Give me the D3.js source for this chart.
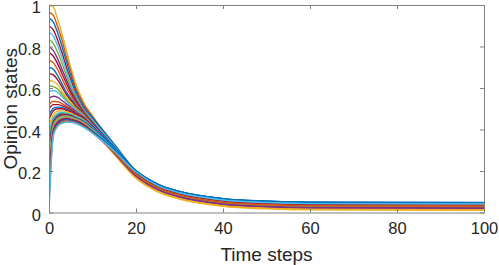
<!DOCTYPE html>
<html>
<head>
<meta charset="utf-8">
<script src="https://cdn.jsdelivr.net/npm/d3@7"></script>
<style>
  html, body { margin: 0; padding: 0; background: #ffffff; }
  svg { display: block; }
  text { font-family: "Liberation Sans", Arial, Helvetica, sans-serif; fill: #262626; }
</style>
</head>
<body>
<svg id="chart" width="499" height="265"></svg>
<script>
// ---- data ----
const timeSteps = [0, 1, 2, 3, 4, 5, 6, 8, 10, 12, 15, 20, 25, 30, 40, 50, 60, 100];
const xTicks = [0, 20, 40, 60, 80, 100];
const yTicks = [0, 0.2, 0.4, 0.6, 0.8, 1];
const yTickLabels = ["0", "0.2", "0.4", "0.6", "0.8", "1"];
const xLabel = "Time steps";
const yLabel = "Opinion states";

const palette = {
  B: "#0072BD", O: "#D95319", Y: "#EDB120", P: "#7E2F8E",
  G: "#77AC30", LB: "#4DBEEE", DR: "#A2142F"
};
const seriesColors = ["Y","O","B","DR","LB","G","P","DR","O","B","DR","Y","G","LB","P","O","DR",
                      "B","DR","Y","LB","G","B","DR","O","LB","G","Y","P","DR","B","O","LB"];
const opinionSeries = [
  [1.00,0.99,0.93,0.86,0.78,0.70,0.63,0.53,0.466,0.402, 0.306,0.167,0.102,0.067,0.032,0.020,0.015,0.013],
  [0.965,0.95,0.895,0.83,0.75,0.68,0.61,0.52,0.462,0.405, 0.318,0.185,0.120,0.085,0.050,0.038,0.033,0.031],
  [0.935,0.918,0.865,0.80,0.728,0.66,0.597,0.51,0.458,0.407, 0.329,0.201,0.136,0.101,0.066,0.054,0.049,0.047],
  [0.90,0.88,0.83,0.77,0.70,0.64,0.58,0.50,0.448,0.397, 0.319,0.191,0.126,0.091,0.056,0.044,0.039,0.037],
  [0.87,0.85,0.803,0.746,0.682,0.625,0.571,0.496,0.446,0.395, 0.320,0.195,0.130,0.095,0.060,0.048,0.043,0.041],
  [0.835,0.815,0.771,0.718,0.661,0.607,0.561,0.49,0.438,0.385, 0.307,0.181,0.116,0.081,0.046,0.034,0.029,0.027],
  [0.80,0.78,0.74,0.69,0.64,0.59,0.55,0.485,0.432,0.379, 0.300,0.175,0.110,0.075,0.040,0.028,0.023,0.021],
  [0.77,0.753,0.716,0.669,0.622,0.578,0.541,0.482,0.434,0.385, 0.313,0.193,0.128,0.093,0.058,0.046,0.041,0.039],
  [0.735,0.721,0.688,0.645,0.601,0.564,0.531,0.478,0.429,0.380, 0.307,0.187,0.122,0.087,0.052,0.040,0.035,0.033],
  [0.70,0.69,0.66,0.62,0.58,0.55,0.52,0.475,0.429,0.384, 0.315,0.199,0.134,0.099,0.064,0.052,0.047,0.045],
  [0.67,0.663,0.639,0.604,0.568,0.541,0.514,0.472,0.428,0.382, 0.308,0.191,0.126,0.091,0.056,0.044,0.039,0.037],
  [0.635,0.632,0.615,0.584,0.554,0.531,0.507,0.4685,0.420,0.370, 0.290,0.169,0.104,0.069,0.034,0.022,0.017,0.015],
  [0.61,0.607,0.595,0.569,0.543,0.522,0.502,0.466,0.421,0.374, 0.299,0.181,0.116,0.081,0.046,0.034,0.029,0.027],
  [0.585,0.588,0.58,0.558,0.535,0.516,0.497,0.4635,0.422,0.379, 0.310,0.196,0.131,0.096,0.061,0.049,0.044,0.042],
  [0.55,0.56,0.555,0.54,0.5225,0.5075,0.49,0.46,0.415,0.368, 0.292,0.174,0.109,0.074,0.039,0.027,0.022,0.020],
  [0.52,0.536,0.534,0.525,0.512,0.50,0.484,0.457,0.414,0.370, 0.299,0.183,0.118,0.083,0.048,0.036,0.031,0.029],
  [0.50,0.52,0.52,0.515,0.505,0.495,0.48,0.455,0.414,0.372, 0.304,0.190,0.125,0.090,0.055,0.043,0.038,0.036],
  [0.47,0.502,0.508,0.506,0.4975,0.489,0.4755,0.452,0.417,0.377, 0.311,0.200,0.135,0.100,0.065,0.053,0.048,0.046],
  [0.45,0.49,0.50,0.50,0.4925,0.485,0.4725,0.45,0.414,0.373, 0.305,0.192,0.127,0.092,0.057,0.045,0.040,0.038],
  [0.42,0.472,0.488,0.491,0.485,0.479,0.468,0.447,0.406,0.360, 0.282,0.165,0.100,0.065,0.030,0.018,0.013,0.011],
  [0.39,0.457,0.478,0.483,0.479,0.474,0.464,0.444,0.409,0.370, 0.305,0.194,0.129,0.094,0.059,0.047,0.042,0.040],
  [0.36,0.448,0.472,0.479,0.476,0.471,0.461,0.441,0.404,0.363, 0.293,0.180,0.115,0.080,0.045,0.033,0.028,0.026],
  [0.33,0.439,0.466,0.4745,0.473,0.468,0.458,0.438,0.406,0.370, 0.310,0.202,0.137,0.102,0.067,0.055,0.050,0.048],
  [0.30,0.43,0.46,0.47,0.47,0.465,0.455,0.435,0.401,0.363, 0.299,0.189,0.124,0.089,0.054,0.042,0.037,0.035],
  [0.27,0.424,0.4555,0.4655,0.467,0.462,0.4535,0.4335,0.399,0.361, 0.296,0.186,0.121,0.086,0.051,0.039,0.034,0.032],
  [0.24,0.418,0.451,0.461,0.464,0.459,0.452,0.432,0.400,0.364, 0.304,0.197,0.132,0.097,0.062,0.050,0.045,0.043],
  [0.21,0.412,0.446,0.456,0.46,0.455,0.45,0.43,0.396,0.357, 0.292,0.182,0.117,0.082,0.047,0.035,0.030,0.028],
  [0.18,0.406,0.442,0.453,0.458,0.453,0.448,0.428,0.391,0.350, 0.280,0.168,0.103,0.068,0.033,0.021,0.016,0.014],
  [0.15,0.40,0.4375,0.45,0.455,0.45,0.445,0.425,0.390,0.351, 0.286,0.176,0.111,0.076,0.041,0.029,0.024,0.022],
  [0.11,0.392,0.431,0.446,0.451,0.446,0.441,0.421,0.390,0.356, 0.298,0.192,0.127,0.092,0.057,0.045,0.040,0.038],
  [0.08,0.386,0.427,0.442,0.447,0.443,0.438,0.418,0.390,0.358, 0.304,0.201,0.136,0.101,0.066,0.054,0.049,0.047],
  [0.04,0.378,0.421,0.436,0.441,0.439,0.434,0.414,0.383,0.348, 0.289,0.184,0.119,0.084,0.049,0.037,0.032,0.030],
  [0.00,0.37,0.415,0.43,0.435,0.435,0.43,0.41,0.382,0.350, 0.296,0.195,0.130,0.095,0.060,0.048,0.043,0.041]
];

// ---- layout ----
const W = 499, H = 265;
const margin = { left: 49, right: 15, top: 5, bottom: 52.5 };
const x0 = margin.left, x1 = W - margin.right;
const y0 = margin.top, y1 = H - margin.bottom;

const svg = d3.select("#chart");
const x = d3.scaleLinear().domain([0, 100]).range([x0, x1]);
const y = d3.scaleLinear().domain([0, 1]).range([y1, y0]);

svg.append("defs").append("clipPath").attr("id", "clip")
  .append("rect").attr("x", x0).attr("y", y0 - 2).attr("width", x1 - x0).attr("height", y1 - y0 + 2);

const line = d3.line()
  .x((d, i) => x(timeSteps[i]))
  .y(d => y(d))
  .curve(d3.curveMonotoneX);

const g = svg.append("g").attr("clip-path", "url(#clip)");
opinionSeries.forEach((s, i) => {
  g.append("path")
    .attr("d", line(s))
    .attr("fill", "none")
    .attr("stroke", palette[seriesColors[i]])
    .attr("stroke-width", 1.4)
    .attr("stroke-linejoin", "round");
});

// axes (MATLAB style: box on, ticks inside)
const axisColor = "#808080";
const tickLen = 4;
const fontTick = 16.5;

const xAxis = d3.axisBottom(x).tickValues(xTicks).tickSizeInner(-tickLen).tickSizeOuter(0).tickPadding(10);
const gx = svg.append("g").attr("transform", `translate(0,${y1})`).call(xAxis);
const xAxisTop = d3.axisTop(x).tickValues(xTicks).tickSizeInner(-tickLen).tickSizeOuter(0).tickFormat("");
const gxt = svg.append("g").attr("transform", `translate(0,${y0})`).call(xAxisTop);

const yAxis = d3.axisLeft(y).tickValues(yTicks).tickSizeInner(-tickLen).tickSizeOuter(0).tickPadding(8)
  .tickFormat((d, i) => yTickLabels[i]);
const gy = svg.append("g").attr("transform", `translate(${x0},0)`).call(yAxis);
const yAxisRight = d3.axisRight(y).tickValues(yTicks).tickSizeInner(-tickLen).tickSizeOuter(0).tickFormat("");
const gyr = svg.append("g").attr("transform", `translate(${x1},0)`).call(yAxisRight);

[gx, gxt, gy, gyr].forEach(a => {
  a.select(".domain").attr("stroke", axisColor).attr("stroke-width", 1);
  a.selectAll(".tick line").attr("stroke", axisColor).attr("stroke-width", 1);
  a.selectAll(".tick text").attr("font-size", fontTick)
    .attr("font-family", "'Liberation Sans', Arial, sans-serif").attr("fill", "#262626");
});
gy.selectAll(".tick text").attr("dy", "0.48em");

// axis labels
svg.append("text")
  .attr("x", (x0 + x1) / 2).attr("y", 261)
  .attr("text-anchor", "middle").attr("font-size", 19)
  .text(xLabel);
svg.append("text")
  .attr("transform", `translate(17,${(y0 + y1) / 2}) rotate(-90)`)
  .attr("text-anchor", "middle").attr("font-size", 19)
  .text(yLabel);
</script>
</body>
</html>
